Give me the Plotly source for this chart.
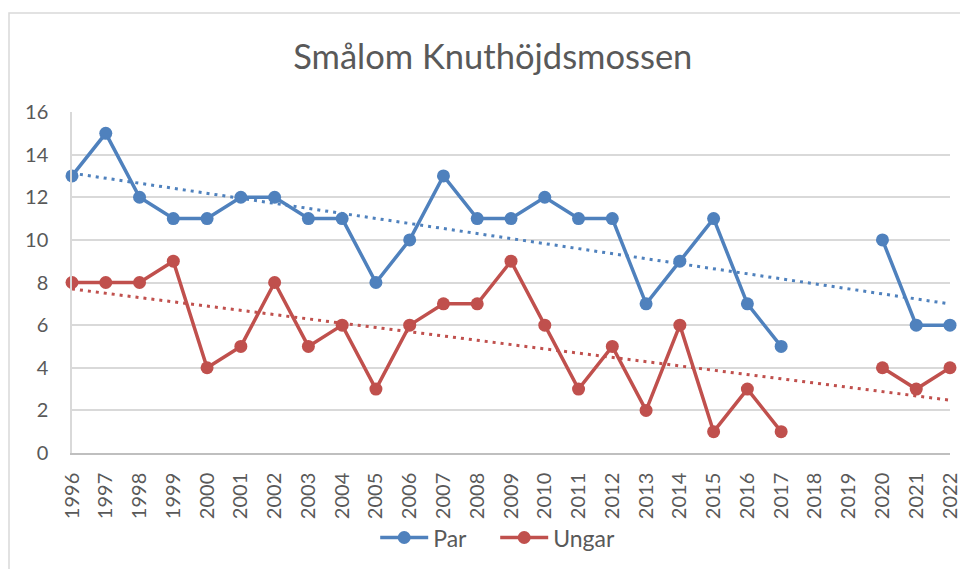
import numpy as np
import plotly.graph_objects as go

years = [str(y) for y in range(1996, 2023)]
par = [13, 15, 12, 11, 11, 12, 12, 11, 11, 8, 10, 13, 11, 11, 12, 11, 11, 7, 9, 11, 7, 5,
       None, None, 10, 6, 6]
ungar = [8, 8, 8, 9, 4, 5, 8, 5, 6, 3, 6, 7, 7, 9, 6, 3, 5, 2, 6, 1, 3, 1,
         None, None, 4, 3, 4]

BLUE = "#4f81bd"
RED = "#c0504d"
FONT = "Lato"
GRAY = "#595959"


def trend(vals):
    idx = np.array([i for i, v in enumerate(vals) if v is not None], dtype=float)
    v = np.array([v for v in vals if v is not None], dtype=float)
    k, m = np.polyfit(idx, v, 1)
    allx = np.arange(len(vals))
    return list(k * allx + m)


fig = go.Figure()
fig.add_trace(go.Scatter(x=years, y=trend(par), mode="lines", showlegend=False,
                         line=dict(color=BLUE, width=3, dash="3px,5px"), hoverinfo="skip"))
fig.add_trace(go.Scatter(x=years, y=trend(ungar), mode="lines", showlegend=False,
                         line=dict(color=RED, width=3, dash="3px,5px"), hoverinfo="skip"))
fig.add_trace(go.Scatter(x=years, y=par, name="Par", mode="lines+markers",
                         line=dict(color=BLUE, width=3.5), marker=dict(size=13, color=BLUE),
                         connectgaps=False, cliponaxis=False))
fig.add_trace(go.Scatter(x=years, y=ungar, name="Ungar", mode="lines+markers",
                         line=dict(color=RED, width=3.5), marker=dict(size=13, color=RED),
                         connectgaps=False, cliponaxis=False))

fig.update_layout(
    width=960, height=561,
    margin=dict(l=64, r=18, t=104, b=116, autoexpand=False),
    paper_bgcolor="white", plot_bgcolor="white",
    font=dict(family=FONT, color=GRAY, size=20),
    title=dict(text="Smålom Knuthöjdsmossen", x=0.505, xanchor="center",
               y=0.912, yanchor="middle", font=dict(size=34.5, color=GRAY, family=FONT)),
    xaxis=dict(type="category", range=[0, 26], tickangle=-90, showgrid=False,
               showline=True, linecolor="#bfbfbf", linewidth=1.5, ticks="",
               tickfont=dict(size=20, color=GRAY), ticklabelstandoff=10, fixedrange=True,
               automargin=False),
    yaxis=dict(range=[0, 16], dtick=2, showgrid=True, gridcolor="#d9d9d9", gridwidth=1.5,
               zeroline=False, showline=True, linecolor="#d9d9d9", linewidth=1.5,
               ticks="", tickfont=dict(size=20, color=GRAY), ticklabelstandoff=18,
               automargin=False),
    legend=dict(orientation="h", x=0.482, xanchor="center", y=-0.248, yanchor="middle",
                font=dict(size=23, color=GRAY), itemwidth=48, entrywidth=57,
                bgcolor="rgba(0,0,0,0)"),
    shapes=[dict(type="rect", xref="paper", yref="paper",
                 x0=(1 - 64) / 878, x1=1.2, y0=-0.5, y1=(445.3 - 5) / 341.3,
                 line=dict(color="#d9d9d9", width=1.5), layer="below")],
)

fig.write_html("out.html")
